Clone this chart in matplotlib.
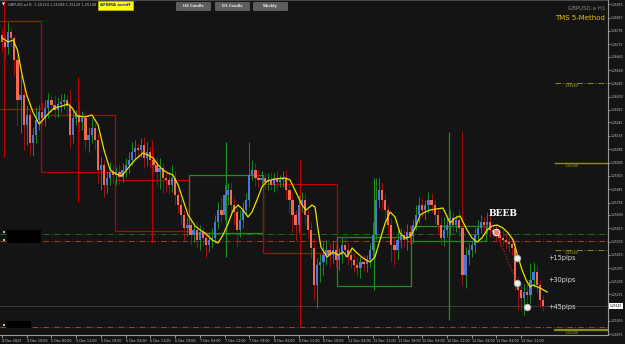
import matplotlib.pyplot as plt
import matplotlib.transforms as mtransforms
from matplotlib.patches import Rectangle
import numpy as np

# H1 candles, GBPUSD 4 Dec 11:00 .. 13 Dec
first_open = 1.26770
closes = [
    1.26728, 1.26698, 1.26788, 1.26752, 1.26620, 1.26380, 1.26410, 1.26230, 1.26290, 1.26122,
    1.26170, 1.26260, 1.26308, 1.26272, 1.26332, 1.26380, 1.26350, 1.26320, 1.26356, 1.26368,
    1.26380, 1.26344, 1.26170, 1.26272, 1.26290, 1.26248, 1.26272, 1.26140, 1.26170, 1.26212,
    1.26140, 1.25960, 1.25990, 1.25870, 1.25912, 1.25948, 1.25930, 1.25948, 1.25918, 1.25960,
    1.25990, 1.26020, 1.26068, 1.26092, 1.26080, 1.26110, 1.26032, 1.26068, 1.26020, 1.25990,
    1.25948, 1.25972, 1.25912, 1.25900, 1.25870, 1.25912, 1.25810, 1.25750, 1.25690, 1.25612,
    1.25630, 1.25570, 1.25600, 1.25540, 1.25588, 1.25552, 1.25510, 1.25540, 1.25552, 1.25648,
    1.25720, 1.25690, 1.25810, 1.25840, 1.25750, 1.25708, 1.25600, 1.25660, 1.25720, 1.25780,
    1.25930, 1.25960, 1.25912, 1.25900, 1.25912, 1.25888, 1.25900, 1.25870, 1.25912, 1.25888,
    1.25900, 1.25912, 1.25840, 1.25780, 1.25690, 1.25630, 1.25750, 1.25780, 1.25690, 1.25600,
    1.25492, 1.25270, 1.25390, 1.25408, 1.25450, 1.25480, 1.25450, 1.25480, 1.25420, 1.25450,
    1.25510, 1.25480, 1.25450, 1.25420, 1.25390, 1.25372, 1.25408, 1.25396, 1.25420, 1.25480,
    1.25570, 1.25780, 1.25840, 1.25780, 1.25720, 1.25630, 1.25510, 1.25480, 1.25540, 1.25570,
    1.25540, 1.25588, 1.25564, 1.25630, 1.25690, 1.25750, 1.25720, 1.25750, 1.25780, 1.25750,
    1.25690, 1.25630, 1.25552, 1.25600, 1.25630, 1.25672, 1.25630, 1.25660, 1.25612, 1.25330,
    1.25450, 1.25480, 1.25510, 1.25570, 1.25612, 1.25648, 1.25630, 1.25648, 1.25600, 1.25588,
    1.25570, 1.25552, 1.25540, 1.25528, 1.25516, 1.25492, 1.25288, 1.25240, 1.25192, 1.25228,
    1.25210, 1.25300, 1.25348, 1.25270, 1.25180, 1.25145,
]
upper_wick_pips = [
    4, 5, 6, 3, 2, 3, 12, 4, 6, 3, 5, 8, 4, 6, 5, 4, 3, 6, 4, 5,
    4, 3, 10, 5, 3, 8, 4, 3, 5, 6, 3, 4, 5, 3, 4, 6, 4, 3, 5, 4,
    4, 5, 6, 5, 3, 4, 5, 6, 3, 4, 5, 6, 3, 4, 5, 8, 4, 3, 4, 3,
    5, 4, 3, 5, 4, 3, 4, 5, 6, 4, 5, 8, 6, 4, 5, 4, 3, 6, 5, 4,
    20, 6, 4, 5, 4, 3, 4, 5, 3, 4, 3, 4, 5, 3, 4, 3, 6, 5, 4, 3,
    5, 6, 4, 5, 8, 6, 4, 5, 3, 4, 5, 6, 4, 3, 4, 5, 3, 4, 3, 4,
    8, 13, 7, 5, 4, 3, 4, 5, 6, 4, 3, 5, 4, 3, 6, 5, 4, 3, 5, 4,
    3, 4, 5, 8, 4, 5, 4, 3, 6, 58, 5, 4, 3, 4, 5, 4, 3, 6, 4, 3,
    4, 3, 5, 4, 3, 4, 5, 3, 4, 5, 6, 10, 6, 4, 3, 3,
]
lower_wick_pips = [
    6, 8, 4, 5, 9, 15, 20, 15, 12, 7, 8, 5, 6, 4, 5, 6, 4, 5, 4, 5,
    4, 6, 8, 5, 4, 6, 5, 6, 7, 5, 6, 8, 12, 7, 5, 4, 5, 6, 4, 3,
    4, 5, 3, 4, 5, 4, 6, 5, 4, 5, 8, 10, 9, 7, 5, 4, 6, 5, 6, 7,
    5, 6, 4, 5, 6, 5, 8, 4, 5, 3, 4, 5, 3, 6, 5, 8, 10, 4, 5, 3,
    4, 3, 5, 4, 3, 4, 5, 3, 4, 5, 3, 4, 6, 8, 10, 9, 5, 4, 6, 5,
    6, 9, 14, 10, 8, 6, 7, 5, 4, 6, 5, 4, 6, 5, 4, 5, 6, 4, 5, 4,
    4, 3, 5, 6, 8, 7, 10, 9, 6, 5, 4, 6, 5, 4, 3, 5, 4, 6, 5, 4,
    5, 6, 4, 5, 4, 6, 5, 4, 5, 6, 8, 6, 4, 5, 4, 3, 4, 5, 4, 3,
    4, 5, 3, 4, 5, 4, 5, 12, 8, 10, 6, 5, 4, 5, 5, 3,
]

# yellow moving average, read at candle positions
ma_x = [0, 2, 3.6, 5, 6.5, 8, 10, 12, 14, 15.5, 17, 19.4, 21.4, 22.7, 24.3, 26.9, 29.1, 31.1,
        33, 35, 36.9, 38.8, 40.8, 43, 45.6, 47.2, 48.9, 50.5, 52.1, 53.7, 55.3, 57, 58.6, 60.2,
        62.5, 64.1, 65.7, 68, 69.9, 71.5, 73.1, 74.8, 76.4, 78, 79.6, 80.9, 82.5, 84.1, 85.8,
        88.3, 91.6, 93.2, 95.1, 97.1, 98.4, 100.3, 101.3, 102.3, 103.2, 105.2, 107.1, 108.7,
        110.4, 111.7, 113.3, 114.9, 116.8, 119.1, 120.7, 122.3, 124, 125.6, 127.2, 128.8, 130.4,
        132, 133.7, 135.3, 136.9, 138.5, 142.7, 145, 146.6, 148.2, 150.5, 152.1, 153.7, 155.3,
        157, 158.6, 160.2, 162.1, 163.8, 165.4, 167, 168.3, 169.6, 170.9, 171.8, 174.1, 176.4]
ma_price = [1.26752, 1.26728, 1.26740, 1.26680, 1.26530, 1.26410, 1.26308, 1.26236, 1.26278,
            1.26308, 1.26332, 1.26344, 1.26356, 1.26332, 1.26284, 1.26278, 1.26290, 1.26230,
            1.26080, 1.25960, 1.25936, 1.25924, 1.25972, 1.26020, 1.26062, 1.26050, 1.26032,
            1.25990, 1.25960, 1.25942, 1.25930, 1.25870, 1.25780, 1.25690, 1.25624, 1.25600,
            1.25582, 1.25540, 1.25522, 1.25570, 1.25636, 1.25720, 1.25750, 1.25720, 1.25678,
            1.25708, 1.25780, 1.25858, 1.25894, 1.25906, 1.25912, 1.25900, 1.25828, 1.25750,
            1.25720, 1.25750, 1.25738, 1.25600, 1.25498, 1.25438, 1.25468, 1.25450, 1.25468,
            1.25438, 1.25492, 1.25462, 1.25432, 1.25408, 1.25438, 1.25540, 1.25642, 1.25708,
            1.25678, 1.25582, 1.25552, 1.25558, 1.25612, 1.25690, 1.25708, 1.25720, 1.25732,
            1.25642, 1.25672, 1.25684, 1.25600, 1.25552, 1.25528, 1.25552, 1.25600, 1.25624,
            1.25630, 1.25612, 1.25582, 1.25540, 1.25438, 1.25360, 1.25300, 1.25258, 1.25270,
            1.25252, 1.25228]

# daily candles drawn as boxes
day_start = [-11.5, 12.5, 36.5, 60.5, 84.5, 108.5, 132.5]
day_end = [12.5, 36.5, 60.5, 84.5, 108.5, 132.5, 156.5]
day_open = [1.26854, 1.26290, 1.25900, 1.25582, 1.25876, 1.25264, 1.25534]
day_close = [1.26326, 1.25948, 1.25594, 1.25930, 1.25462, 1.25558, 1.25624]
day_high = [1.27050, 1.26518, 1.26140, 1.26128, 1.26020, 1.25912, 1.26188]
day_low = [1.26038, 1.25768, 1.25522, 1.25438, 1.25018, 1.25240, 1.25060]

# horizontal levels
full_levels = [1.25576, 1.25534, 1.25018]
full_level_colors = ['#1c6e1c', '#a8401c', '#a8401c']
side_levels = [1.26480, 1.26000, 1.25480, 1.25000]
side_level_styles = ['dashdot', 'solid', 'dashdot', 'solid']

# trade annotation
entry_x, entry_price = 159.9, 1.25588
target_x = [166.7, 166.7, 169.9]
target_price = [1.25432, 1.25282, 1.25138]
target_labels = ['+15pips', '+30pips', '+45pips']
target_label_price = [1.25432, 1.25300, 1.25138]

time_labels = ['4 Dec 2023', '4 Dec 19:00', '5 Dec 03:00', '5 Dec 11:00', '5 Dec 19:00',
               '6 Dec 03:00', '6 Dec 11:00', '6 Dec 19:00', '7 Dec 03:00', '7 Dec 11:00',
               '7 Dec 19:00', '8 Dec 03:00', '8 Dec 11:00', '8 Dec 19:00', '11 Dec 03:00',
               '11 Dec 11:00', '11 Dec 19:00', '12 Dec 03:00', '12 Dec 11:00', '12 Dec 19:00',
               '13 Dec 03:00', '13 Dec 11:00']
price_ticks = [1.26955, 1.26875, 1.26795, 1.26715, 1.26640, 1.26560, 1.26480, 1.26400,
               1.26320, 1.26245, 1.26165, 1.26085, 1.26005, 1.25925, 1.25845, 1.25765,
               1.25690, 1.25610, 1.25530, 1.25450, 1.25370, 1.25290, 1.25215, 1.25055, 1.24975]
last_price = 1.25145

bg = '#141414'
W, H = 625, 344
fig = plt.figure(figsize=(6.25, 3.44), dpi=100, facecolor=bg)
ax = fig.add_axes([0, 9 / H, 608 / W, 1 - 9 / H])
ax.set_facecolor(bg)
ax.set_xlim(-0.65, 196.1)
ax.set_ylim(1.2497, 1.2698)


def px(x, y):
    return x / W, 1 - y / H


# candles
closes = np.array(closes)
opens = np.concatenate([[first_open], closes[:-1]])
highs = np.maximum(opens, closes) + np.array(upper_wick_pips) / 1e4
lows = np.minimum(opens, closes) - np.array(lower_wick_pips) / 1e4
idx = np.arange(len(closes))
bull = closes >= opens
wick_col = np.where(bull, '#1f8a1f', '#9a1212')
body_col = np.where(bull, '#4a78d8', '#f4694e')
ax.vlines(idx, lows, highs, colors=wick_col, lw=0.7, zorder=3)
body_h = np.maximum(np.abs(closes - opens), 0.00004)
ax.bar(idx, body_h, bottom=np.minimum(opens, closes), width=0.72, color=body_col,
       lw=0, zorder=4)

# daily boxes
for s, e, o, h, l, c in zip(day_start, day_end, day_open, day_high, day_low, day_close):
    col = '#1f8f1f' if c > o else '#c00000'
    ax.add_patch(Rectangle((s, min(o, c)), e - s, abs(c - o), fill=False,
                           edgecolor=col, lw=0.9, zorder=2))
    ax.vlines((s + e) / 2, l, h, colors=col, lw=0.9, zorder=2)

# levels
for lv, col in zip(full_levels, full_level_colors):
    ax.axhline(lv, color=col, lw=0.7, ls=(0, (6, 2, 1, 2)), zorder=1)
ax.axhline(last_price, color='#3c3c3c', lw=0.7, zorder=1)
for lv, st in zip(side_levels, side_level_styles):
    if st == 'solid':
        ax.plot([179, 196.1], [lv, lv], color='#8c8c1c', lw=1.0 if lv > 1.2501 else 1.6, zorder=1)
    else:
        ax.plot([179, 196.1], [lv, lv], color='#8c8c1c', lw=0.7, ls=(0, (6, 2, 1, 2)), zorder=1)
    ax.text(182, lv - 0.00004, f'{lv:.5f}', color='#a0a02a', fontsize=2.4, va='top', ha='left')

# moving average
ax.plot(ma_x, ma_price, color='#e8e000', lw=0.9, zorder=5)

# trade annotation
ax.plot([entry_x, target_x[1]], [entry_price, target_price[1]], ls=':', color='#e02020', lw=0.8, zorder=5)
ax.scatter([entry_x], [entry_price], s=22, facecolor='#f08070', edgecolor='#f0f0f0', lw=0.8, zorder=6)
ax.scatter(target_x, target_price, s=22, facecolor='#eeeeee', edgecolor='#b0b0b0', lw=0.6, zorder=6)
for lab, p in zip(target_labels, target_label_price):
    ax.text(176.7, p, lab, color='#dcdcdc', fontsize=4.7, va='center', ha='left')
ax.text(162.1, 1.25702, 'BEEB', color='white', fontsize=6.5, fontweight='bold',
        family='DejaVu Serif', ha='center', va='center', zorder=6)

# axes styling
for sp in ['left', 'top']:
    ax.spines[sp].set_visible(False)
ax.spines['right'].set_color('#9a9a9a')
ax.spines['bottom'].set_color('#9a9a9a')
ax.spines['right'].set_linewidth(0.8)
ax.spines['bottom'].set_linewidth(0.8)
ax.yaxis.tick_right()
ax.set_yticks(price_ticks)
ax.set_yticklabels([f'{p:.5f}' for p in price_ticks])
ax.tick_params(axis='y', colors='#c8c8c8', labelsize=2.2, length=1.5, width=0.5, pad=0.6)
ax.set_xticks(np.arange(0, 8 * len(time_labels), 8))
ax.set_xticklabels(time_labels)
ax.tick_params(axis='x', colors='#c8c8c8', labelsize=2.4, length=2, width=0.5, pad=1)
for lbl in ax.get_xticklabels():
    lbl.set_ha('left')
ax.plot([0, 1], [1, 1], transform=ax.transAxes, color='#4a4a4a', lw=0.8, clip_on=False)

trans = mtransforms.blended_transform_factory(ax.transAxes, ax.transData)
ax.text(1.003, last_price, f'{last_price:.5f}', transform=trans, fontsize=2.2, color='black',
        va='center', ha='left', bbox=dict(facecolor='white', edgecolor='none', pad=0.5))

# overlay texts and buttons
fig.text(*px(2, 5), '▼', fontsize=2.6, color='white', va='center')
fig.text(*px(8, 5), 'GBPUSD.a,H1  1.25124 1.25188 1.25129 1.25148', fontsize=2.5,
         color='#bbbbbb', va='center')
fig.add_artist(Rectangle(px(98, 10), 35 / W, 9 / H, transform=fig.transFigure,
                         facecolor='#ffff00', edgecolor='#b8b800', lw=0.6))
fig.text(*px(115.5, 5.5), 'AFBMA on/off', fontsize=2.9, color='#2020c0', fontweight='bold',
         ha='center', va='center')
for x0, lab in zip([176, 215, 253], ['H4 Candle', 'D1 Candle', 'Weekly']):
    fig.add_artist(Rectangle(px(x0, 10), 34 / W, 8 / H, transform=fig.transFigure,
                             facecolor='#5e5e5e', edgecolor='#7a7a7a', lw=0.4))
    fig.text(*px(x0 + 17, 6), lab, fontsize=2.6, color='#e6e6e6', fontweight='bold',
             ha='center', va='center')
fig.text(*px(605, 9), 'GBPUSD.a H1', fontsize=4, color='#8c8c8c', ha='right', va='center')
fig.text(*px(605, 18.5), 'TMS 5-Method', fontsize=5, color='#e6c000', ha='right', va='center')

for (x0, y0, x1, y1) in [(7, 230, 41, 243), (6, 321, 31, 328)]:
    fig.add_artist(Rectangle(px(x0, y1), (x1 - x0) / W, (y1 - y0) / H,
                             transform=fig.transFigure, facecolor='black', edgecolor='none'))
for (x0, y0) in [(3, 231), (3, 239), (3, 324)]:
    fig.add_artist(Rectangle(px(x0, y0 + 2), 2 / W, 2 / H, transform=fig.transFigure,
                             facecolor='#bbbbbb', edgecolor='none'))

fig.savefig('out.png', dpi=100, facecolor=bg)
